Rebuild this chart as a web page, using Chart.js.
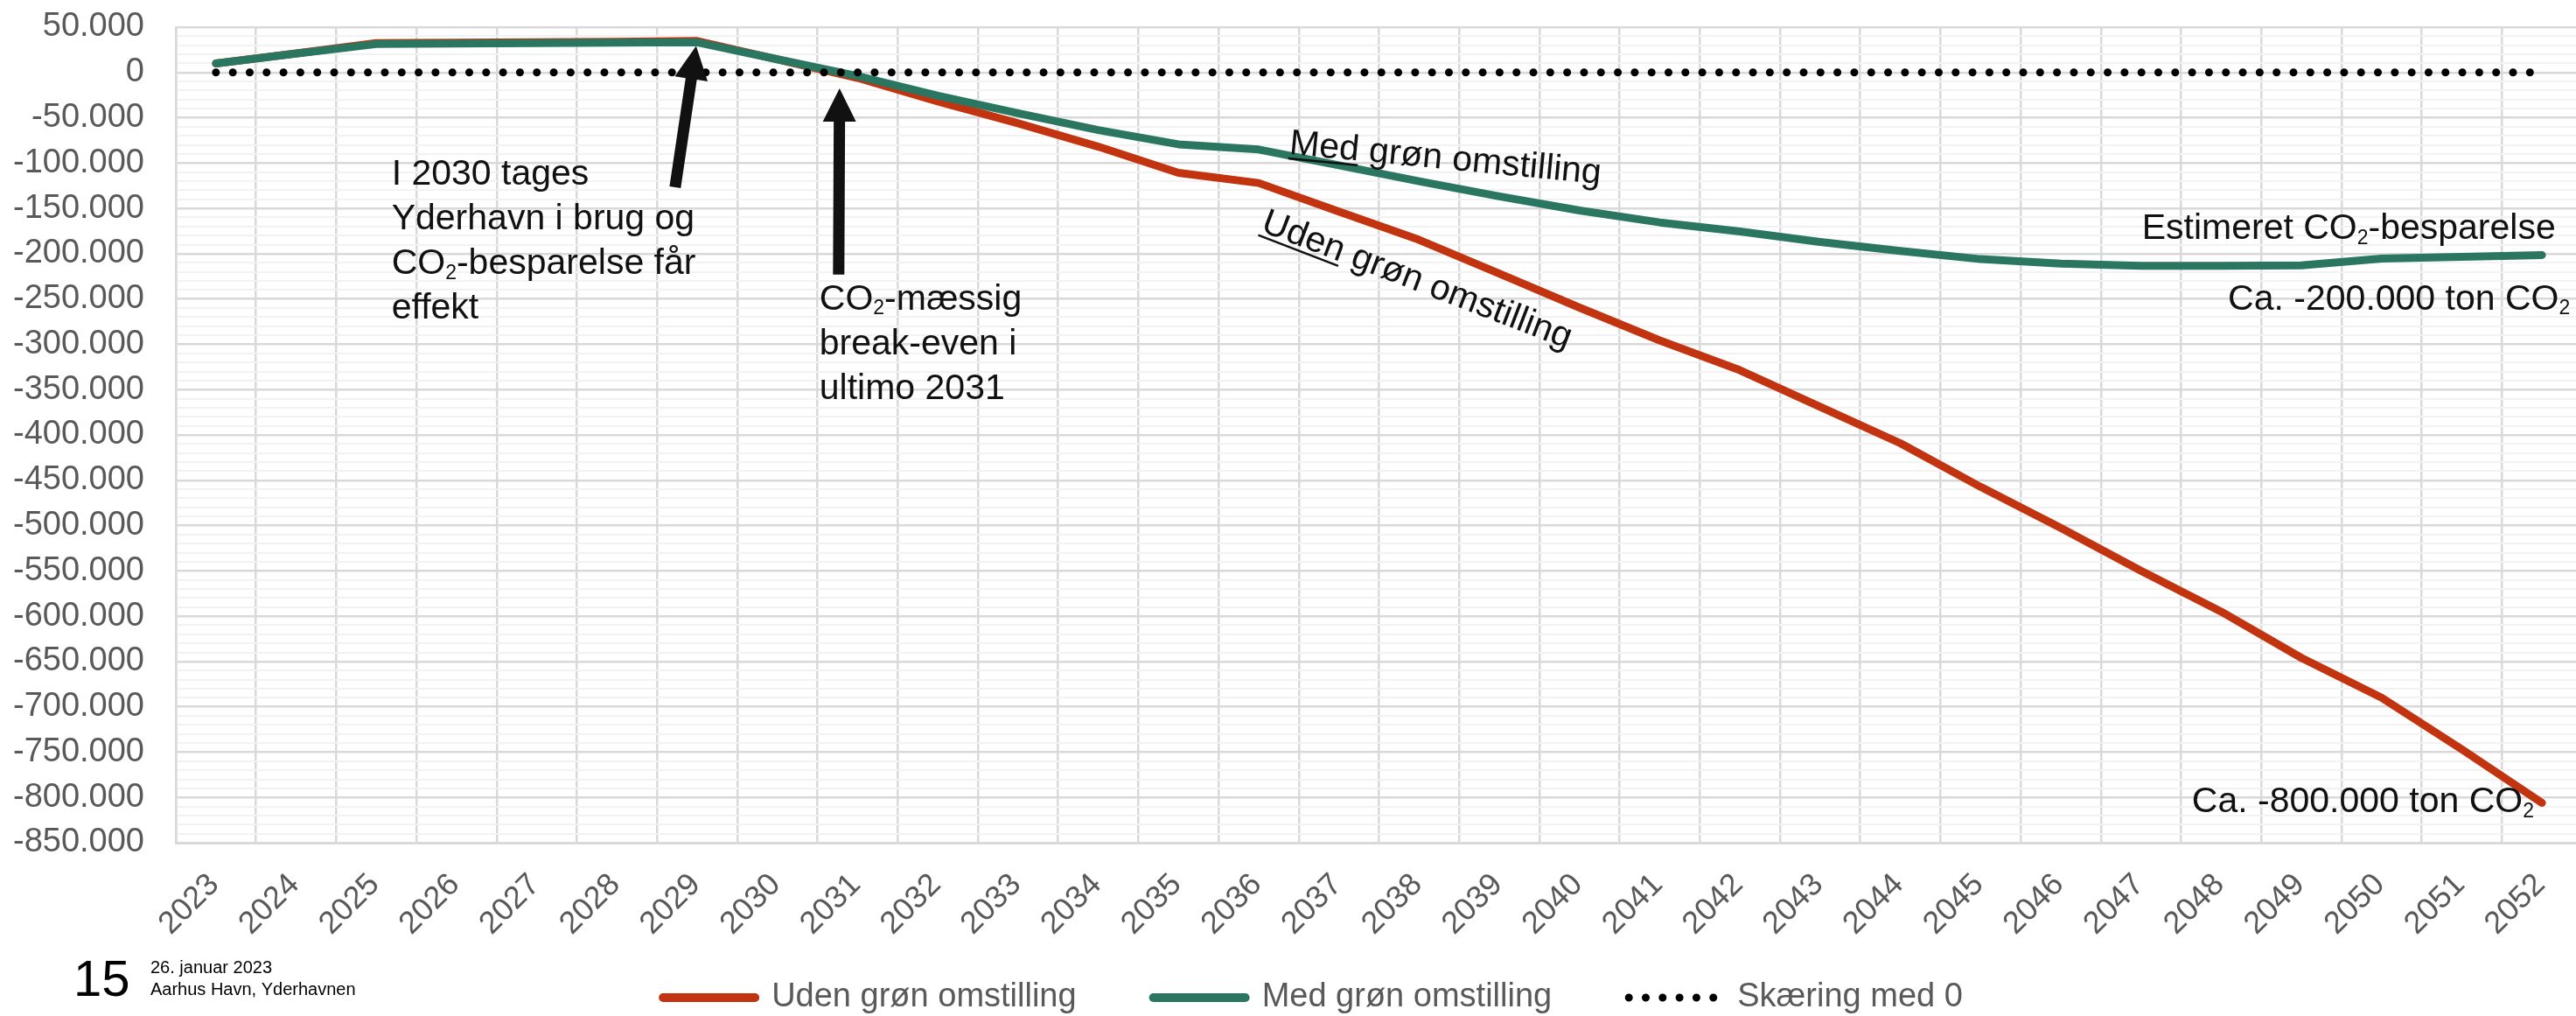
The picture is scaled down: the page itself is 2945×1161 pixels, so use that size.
<!DOCTYPE html>
<html lang="da">
<head>
<meta charset="utf-8">
<title>CO₂-besparelse – Yderhavnen</title>
<script src="https://cdn.jsdelivr.net/npm/chart.js@4.4.1/dist/chart.umd.min.js"></script>
<style>
  html, body { margin: 0; padding: 0; background: #fff; overflow: hidden; }
  #wrap { width: 3000px; height: 1214px; }
</style>
</head>
<body>
<div id="wrap"><canvas id="c" width="3000" height="1214"></canvas></div>
<script>
// Years on the category axis
const years = ['2023','2024','2025','2026','2027','2028','2029','2030','2031','2032',
               '2033','2034','2035','2036','2037','2038','2039','2040','2041','2042',
               '2043','2044','2045','2046','2047','2048','2049','2050','2051','2052'];

// Accumulated CO2 (ton) without green transition
const udenGroen = [10000, 21000, 32300, 32800, 33300, 33900, 34700, 14300, -6000, -32000,
                   -56100, -81900, -110800, -122000, -153500, -184700, -222000, -259500, -295700, -328600,
                   -369000, -409200, -457300, -502700, -550000, -595000, -646000, -690000, -747000, -806000];

// Accumulated CO2 (ton) with green transition
const medGroen = [10000, 20700, 31300, 31800, 32300, 32800, 33300, 14500, -4000, -25600,
                  -44900, -63600, -79300, -85000, -102500, -120000, -136700, -152300, -165500, -175500,
                  -187000, -197000, -206000, -211000, -213500, -213500, -213000, -205500, -203500, -201500];

// Reference line at zero
const nulLinje = [0, 0, 0, 0, 0, 0, 0, 0, 0, 0,
                  0, 0, 0, 0, 0, 0, 0, 0, 0, 0,
                  0, 0, 0, 0, 0, 0, 0, 0, 0, 0];

const seriesNames = ['Uden grøn omstilling', 'Med grøn omstilling', 'Skæring med 0'];

// Value axis
const yMin = -850000;
const yMax = 50000;
const yMajorStep = 50000;
const yMinorStep = 10000;

const FONT = "'Liberation Sans', Arial, Helvetica, sans-serif";
const RED = '#C1340F';
const GREEN = '#2A7661';
const GRAY_TEXT = '#595959';
const GRID_MAJOR = '#D9D9D9';
const GRID_MINOR = '#F2F2F2';

Chart.defaults.font.family = FONT;

function fmtThousands(v) {
  const s = Math.abs(v).toString().replace(/\B(?=(\d{3})+(?!\d))/g, '.');
  return (v < 0 ? '-' : '') + s;
}
const isMajor = v => Math.round(v) % yMajorStep === 0;

// Text with optional subscript parts
function richWidth(ctx, parts, size) {
  let w = 0;
  for (const p of parts) {
    ctx.font = (p.sub ? Math.round(size * 0.55) : size) + 'px ' + FONT;
    w += ctx.measureText(p.t).width;
  }
  return w;
}
function drawRich(ctx, parts, x, y, size, align) {
  const w = richWidth(ctx, parts, size);
  let cx = align === 'right' ? x - w : x;
  ctx.textAlign = 'left';
  ctx.textBaseline = 'alphabetic';
  for (const p of parts) {
    ctx.font = (p.sub ? Math.round(size * 0.55) : size) + 'px ' + FONT;
    ctx.fillText(p.t, cx, p.sub ? y + size * 0.14 : y);
    cx += ctx.measureText(p.t).width;
  }
}
function drawArrow(ctx, x0, y0, x1, y1, shaft, headW, headL) {
  const dx = x1 - x0, dy = y1 - y0, len = Math.hypot(dx, dy);
  const ux = dx / len, uy = dy / len, nx = -uy, ny = ux;
  const bx = x1 - ux * headL, by = y1 - uy * headL;
  ctx.beginPath();
  ctx.moveTo(x0 + nx * shaft / 2, y0 + ny * shaft / 2);
  ctx.lineTo(bx + nx * shaft / 2, by + ny * shaft / 2);
  ctx.lineTo(bx + nx * headW / 2, by + ny * headW / 2);
  ctx.lineTo(x1, y1);
  ctx.lineTo(bx - nx * headW / 2, by - ny * headW / 2);
  ctx.lineTo(bx - nx * shaft / 2, by - ny * shaft / 2);
  ctx.lineTo(x0 - nx * shaft / 2, y0 - ny * shaft / 2);
  ctx.closePath();
  ctx.fill();
}

// Legend placement: centred under the slide content, just below the year labels
const legendPlacement = {
  id: 'legendPlacement',
  afterLayout(chart) {
    const lg = chart.legend;
    if (!lg) return;
    const h = lg.height;
    lg.left = 50;
    lg.right = 2952;
    lg.width = lg.right - lg.left;
    lg.top = 1033;
    lg.bottom = lg.top + h;
  }
};

// Callouts, arrows and slide footer
const notesPlugin = {
  id: 'notes',
  afterDraw(chart) {
    const { ctx, scales: { x, y } } = chart;
    const P = (i, v) => ({ x: x.getPixelForValue(i), y: y.getPixelForValue(v) });
    const S = 41, LH = 51;
    ctx.save();
    ctx.fillStyle = '#111111';

    // Port taken into use in 2030
    const a1 = P(2.19, -123700);
    drawRich(ctx, [{ t: 'I 2030 tages' }], a1.x, a1.y, S);
    drawRich(ctx, [{ t: 'Yderhavn i brug og' }], a1.x, a1.y + LH, S);
    drawRich(ctx, [{ t: 'CO' }, { t: '2', sub: true }, { t: '-besparelse får' }], a1.x, a1.y + 2 * LH, S);
    drawRich(ctx, [{ t: 'effekt' }], a1.x, a1.y + 3 * LH, S);
    const t1 = P(5.725, -126700), h1 = P(5.987, 29200);
    drawArrow(ctx, t1.x, t1.y, h1.x, h1.y, 13, 38, 38);

    // Break-even
    const t2 = P(7.764, -223000), h2 = P(7.775, -17600);
    drawArrow(ctx, t2.x, t2.y, h2.x, h2.y, 13, 38, 38);
    const a2 = P(7.524, -261600);
    drawRich(ctx, [{ t: 'CO' }, { t: '2', sub: true }, { t: '-mæssig' }], a2.x, a2.y, S);
    drawRich(ctx, [{ t: 'break-even i' }], a2.x, a2.y + LH, S);
    drawRich(ctx, [{ t: 'ultimo 2031' }], a2.x, a2.y + 2 * LH, S);

    // Series labels along the lines
    const slanted = (pt, angle, first, rest) => {
      ctx.save();
      ctx.translate(pt.x, pt.y);
      ctx.rotate(angle * Math.PI / 180);
      ctx.font = S + 'px ' + FONT;
      ctx.textAlign = 'left';
      ctx.textBaseline = 'alphabetic';
      ctx.fillText(first + rest, 0, 0);
      const w = ctx.measureText(first).width;
      ctx.fillRect(0, 4, w, 2.5);
      ctx.restore();
    };
    slanted(P(13.375, -89900), 5.5, 'Med', ' grøn omstilling');
    slanted(P(13.015, -174800), 21, 'Uden', ' grøn omstilling');

    // End labels
    const e1 = P(29.17, -183500);
    drawRich(ctx, [{ t: 'Estimeret CO' }, { t: '2', sub: true }, { t: '-besparelse' }], e1.x, e1.y, S, 'right');
    const e2 = P(29.35, -261600);
    drawRich(ctx, [{ t: 'Ca. -200.000 ton CO' }, { t: '2', sub: true }], e2.x, e2.y, S, 'right');
    const e3 = P(28.9, -816300);
    drawRich(ctx, [{ t: 'Ca. -800.000 ton CO' }, { t: '2', sub: true }], e3.x, e3.y, S, 'right');

    // Slide footer
    ctx.fillStyle = '#000000';
    ctx.textAlign = 'left';
    ctx.textBaseline = 'alphabetic';
    ctx.font = '58px ' + FONT;
    ctx.fillText('15', 84, 1138);
    ctx.font = '20px ' + FONT;
    ctx.fillText('26. januar 2023', 172, 1112);
    ctx.fillText('Aarhus Havn, Yderhavnen', 172, 1137);
    ctx.restore();
  }
};

new Chart(document.getElementById('c'), {
  type: 'line',
  data: {
    labels: years,
    datasets: [
      { label: seriesNames[0], data: udenGroen, order: 3, borderColor: RED, backgroundColor: RED,
        borderWidth: 9, borderCapStyle: 'round', borderJoinStyle: 'round', pointRadius: 0, tension: 0 },
      { label: seriesNames[1], data: medGroen, order: 2, borderColor: GREEN, backgroundColor: GREEN,
        borderWidth: 9, borderCapStyle: 'round', borderJoinStyle: 'round', pointRadius: 0, tension: 0 },
      { label: seriesNames[2], data: nulLinje, order: 1, borderColor: '#000000', backgroundColor: '#000000',
        borderWidth: 9, borderCapStyle: 'round', borderDash: [0.01, 19.3], pointRadius: 0, tension: 0 }
    ]
  },
  options: {
    responsive: false,
    animation: false,
    devicePixelRatio: 1,
    layout: { padding: { left: 0, right: 48, top: 31, bottom: 0 } },
    plugins: {
      tooltip: { enabled: false },
      legend: {
        position: 'bottom',
        reverse: true,
        labels: {
          usePointStyle: true,
          pointStyle: 'line',
          pointStyleWidth: 105,
          padding: 88,
          color: GRAY_TEXT,
          font: { size: 38 },
          generateLabels(chart) {
            const items = Chart.defaults.plugins.legend.labels.generateLabels(chart);
            items.forEach(it => {
              const ds = chart.data.datasets[it.datasetIndex];
              it.lineWidth = ds.borderDash ? ds.borderWidth : 10;
              it.lineDash = ds.borderDash || [];
              it.lineCap = ds.borderCapStyle;
              it.strokeStyle = ds.borderColor;
              it.fillStyle = ds.borderColor;
              it.pointStyle = 'line';
            });
            return items;
          }
        }
      }
    },
    scales: {
      x: {
        offset: true,
        afterFit(scale) { scale.height = 115; scale.paddingLeft = 0; scale.paddingRight = 0; },
        grid: { offset: true, color: GRID_MAJOR, lineWidth: 2.5, drawTicks: false },
        border: { display: true, color: GRID_MAJOR, width: 3 },
        ticks: {
          color: GRAY_TEXT, font: { size: 36 },
          minRotation: 45, maxRotation: 45, autoSkip: false,
          padding: 27, labelOffset: -2
        }
      },
      y: {
        min: yMin,
        max: yMax,
        afterFit(scale) { scale.width = 201; scale.paddingTop = 0; scale.paddingBottom = 0; },
        grid: {
          drawTicks: false,
          color: c => (c.tick && isMajor(c.tick.value)) ? GRID_MAJOR : GRID_MINOR,
          lineWidth: c => (c.tick && isMajor(c.tick.value)) ? 2.5 : 2
        },
        border: { display: true, color: GRID_MAJOR, width: 2.5 },
        ticks: {
          stepSize: yMinorStep,
          autoSkip: false,
          padding: 36,
          color: GRAY_TEXT,
          font: { size: 38 },
          callback: v => isMajor(v) ? fmtThousands(Math.round(v)) : ''
        }
      }
    }
  },
  plugins: [legendPlacement, notesPlugin]
});
</script>
</body>
</html>
